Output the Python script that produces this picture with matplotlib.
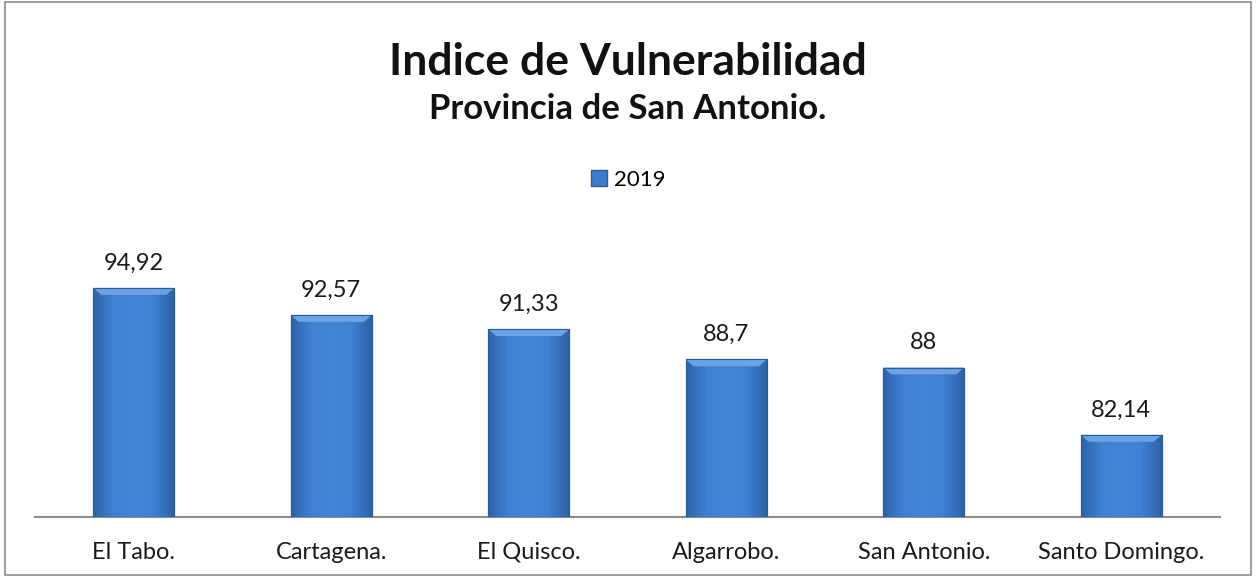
import numpy as np
import matplotlib.pyplot as plt
from matplotlib.patches import Rectangle, Polygon

comunas = ["El Tabo.", "Cartagena.", "El Quisco.", "Algarrobo.", "San Antonio.", "Santo Domingo."]
valores = [94.92, 92.57, 91.33, 88.7, 88.0, 82.14]
etiquetas = ["94,92", "92,57", "91,33", "88,7", "88", "82,14"]


def main():
    plt.rcParams['font.family'] = ['Lato', 'DejaVu Sans']

    fig = plt.figure(figsize=(12.56, 5.77), dpi=100)
    fig.patches.append(Rectangle((0.004, 0.003), 0.992, 0.994, transform=fig.transFigure,
                                 fill=False, edgecolor="#8c8c8c", linewidth=1.2))

    ax = fig.add_axes([35 / 1256, 60 / 577, 1185 / 1256, 287.5 / 577])
    x = np.arange(len(comunas))
    bars = ax.bar(x, valores, width=0.41, color="#3d7ccc", edgecolor="#2a5b99",
                  linewidth=0.8, label="2019", zorder=2)

    # fake bevel: horizontal gradient + lighter top strip
    cmap = plt.matplotlib.colors.LinearSegmentedColormap.from_list(
        "bevel", ["#2d63a8", "#3f81d3", "#4286d8", "#3f81d3", "#2d63a8"])
    grad = np.linspace(0, 1, 64).reshape(1, -1)
    for b in bars:
        x0, w, h = b.get_x(), b.get_width(), b.get_height()
        im = ax.imshow(grad, cmap=cmap, aspect="auto", extent=[x0, x0 + w, 75, h], zorder=3)
        im.set_clip_path(b)
        d = 0.6
        ax.add_patch(Polygon([[x0, h], [x0 + w, h], [x0 + w - 0.04, h - d], [x0 + 0.04, h - d]],
                             closed=True, facecolor="#6aa2e6", edgecolor="none", zorder=4))
        ax.add_patch(Rectangle((x0, 75), w, h - 75, fill=False, edgecolor="#2a5b99",
                               linewidth=0.8, zorder=5))

    for xi, v, lab in zip(x, valores, etiquetas):
        ax.text(xi, v + 1.25, lab, ha="center", va="bottom", fontsize=17, color="#1a1a1a")

    ax.set_ylim(75, 100)
    ax.set_xlim(-0.5, len(comunas) - 0.5)
    ax.set_xticks(x)
    ax.set_xticklabels(comunas, fontsize=17, color="#1a1a1a")
    ax.tick_params(axis="x", length=0, pad=18)
    ax.set_yticks([])
    for s in ["top", "right", "left"]:
        ax.spines[s].set_visible(False)
    ax.spines["bottom"].set_color("#8c8c8c")
    ax.spines["bottom"].set_linewidth(1.5)

    fig.text(0.5, 1 - 62 / 577, "Indice de Vulnerabilidad", ha="center", va="center",
             fontsize=32, fontweight="bold", color="#111111")
    fig.text(0.5, 1 - 109 / 577, "Provincia de San Antonio.", ha="center", va="center",
             fontsize=25, fontweight="bold", color="#111111")

    fig.legend(handles=[Rectangle((0, 0), 1, 1, facecolor="#3d7ccc", edgecolor="#2a5b99")],
               labels=["2019"], loc="center", bbox_to_anchor=(0.5, 1 - 180 / 577),
               frameon=False, fontsize=16, handlelength=0.75, handleheight=0.75,
               handletextpad=0.3)

    plt.savefig("out.png", dpi=100)


if __name__ == "__main__":
    main()
